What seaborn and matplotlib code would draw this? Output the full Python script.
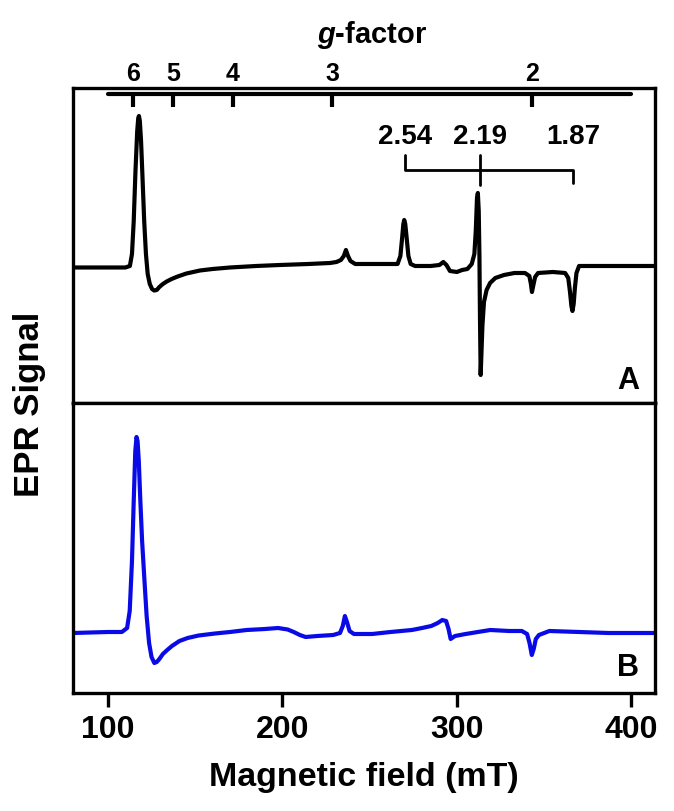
import numpy as np
import matplotlib
matplotlib.use("Agg")
import matplotlib.pyplot as plt
import seaborn as sns

# microwave frequency (GHz) used for the g-factor scale, B(mT) = 71.4477 * nu / g
mw_freq = 9.6
g_ticks = [6, 5, 4, 3, 2]
g_marks = [2.54, 2.19, 1.87]

# spectrum A (black), field in mT, signal in arbitrary units
field_a = [80, 100, 110, 112.6, 113.8, 114.8, 115.8, 116.8, 117.4, 117.8, 118.3,
           119.0, 119.8, 120.8, 121.8, 122.8, 124.0, 125.3, 126.5, 128.0, 129.5,
           131.5, 133.7, 136.5, 140, 145, 152.8, 160, 170, 185, 198.7, 215,
           227.3, 231, 233.5, 235.2, 236.4, 237.6, 239, 241.7, 250, 260, 266,
           267.6, 268.6, 269.3, 269.8, 270.4, 271.2, 272.2, 273.5, 276, 285,
           290, 292.2, 294, 296, 300, 303, 306, 308.5, 310, 310.8, 311.5, 312.0,
           312.5, 312.9, 313.2, 313.6, 314.0, 314.6, 315.5, 317, 319, 322, 327,
           333, 339, 341.5, 342.4, 343, 343.7, 344.8, 346.5, 355, 362, 363.8,
           364.8, 365.6, 366.2, 366.9, 367.6, 368.5, 370, 380, 395, 413.5]
signal_a = [-1.5, -1.5, -1.5, 0, 12, 45, 95, 135, 148, 150, 145,
            125, 90, 45, 12, -8, -18, -23, -24.5, -24, -21,
            -18, -15.5, -13, -10.5, -7.5, -4.5, -3, -1.5, 0, 1, 2,
            3, 4, 6, 10, 16, 10, 5, 2, 2, 2, 2,
            10, 28, 42, 46, 42, 28, 10, 2, 0, 0,
            1, 4, 1, -5, -6, -4, -3, 2, 12, 35, 68, 73,
            55, 10, -50, -109, -90, -60, -36, -24, -17, -12, -9,
            -7, -7, -10, -18, -26, -20, -11, -7, -6, -7, -12,
            -26, -40, -45, -38, -22, -7, 0, 0, 0, 0]

# spectrum B (blue)
field_b = [80, 100, 108, 111, 112.5, 113.8, 114.8, 115.7, 116.4, 117.0, 117.7,
           118.6, 119.6, 120.9, 122.2, 123.6, 125.0, 126.6, 128.0, 129.5, 131.5,
           134, 136.7, 141, 145.7, 152, 161.4, 170, 179.5, 190, 197.5, 203,
           206.5, 210, 213.3, 220, 229.1, 233, 234.6, 235.8, 237, 238.5, 241,
           251.4, 262, 274.2, 280, 285.3, 289, 291.6, 293.8, 295.2, 296.4, 298.9,
           305, 312, 319.1, 330, 337.2, 340.2, 341.6, 342.9, 344.0, 345.2, 347,
           353, 370, 386.8, 413.8]
signal_b = [-2, -1, -1, 3, 20, 70, 130, 180, 194, 190, 170,
            130, 90, 52, 15, -12, -26, -32, -31, -28, -23,
            -19, -15, -10, -7, -4.5, -2.5, -1, 1, 2, 3, 1.5,
            -1, -4, -6, -5, -4, -2, 5, 15, 9, 0, -3,
            -3, -1, 1, 3, 5, 8, 11, 10, 2, -8, -5,
            -3, -1, 1, 0, 0, -3, -12, -24, -18, -8, -4,
            0, -1, -2, -2]

sns.set_theme(style="ticks")
plt.rcParams['font.family'] = ['Liberation Sans', 'DejaVu Sans']
plt.rcParams['font.weight'] = 'bold'
plt.rcParams['text.color'] = 'black'
plt.rcParams['axes.labelcolor'] = 'black'
plt.rcParams['xtick.color'] = 'black'
plt.rcParams['mathtext.fontset'] = 'custom'
plt.rcParams['mathtext.it'] = 'Liberation Sans:italic:bold'

fig = plt.figure(figsize=(6.74, 8.11), dpi=100)
ax1 = fig.add_axes([0.1083, 0.5031, 0.8635, 0.3884])
ax2 = fig.add_axes([0.1083, 0.1455, 0.8635, 0.3576])

sns.lineplot(x=field_a, y=signal_a, ax=ax1, color='black', lw=3.0, sort=False)
sns.lineplot(x=field_b, y=signal_b, ax=ax2, color='#0a0ae6', lw=3.0, sort=False)

for ax in (ax1, ax2):
    ax.set_xlim(80, 413.5)
    ax.set_yticks([])
    for s in ax.spines.values():
        s.set_linewidth(2.4)
        s.set_color('black')
ax1.set_ylim(-137, 178)
ax2.set_ylim(-62, 228)
ax1.set_xticks([])

ax2.set_xticks([100, 200, 300, 400])
ax2.tick_params(axis='x', length=10, width=2.4, pad=6, colors='black',
                labelsize=23)
ax2.set_xlabel('Magnetic field (mT)', fontsize=24.5, fontweight='bold',
               labelpad=12)
fig.text(30 / 674, 1 - 404 / 811, 'EPR Signal', rotation=90, ha='center',
         va='center', fontsize=25, fontweight='bold')

# g-factor scale along the top
g_pos = [71.4477 * mw_freq / g for g in g_ticks]
ax1.plot([100, 400], [172, 172], color='black', lw=3, solid_capstyle='round')
for g, b in zip(g_ticks, g_pos):
    ax1.plot([b, b], [172, 159], color='black', lw=3, solid_capstyle='butt')
    ax1.text(b, 185, str(g), ha='center', va='baseline', fontsize=18,
             fontweight='bold')
ax1.text(220, 223, r'$\mathit{g}$-factor', ha='left', va='baseline',
         fontsize=21, fontweight='bold')

# bracket for the rhombic signal
m = [71.4477 * mw_freq / g for g in g_marks]
ax1.plot([m[0], m[0], m[2], m[2]], [111, 96, 96, 83], color='black', lw=2)
ax1.plot([m[1], m[1]], [111, 81], color='black', lw=2)
for g, b in zip(g_marks, m):
    ax1.text(b, 129, f'{g:.2f}', ha='center', va='center', fontsize=20,
             fontweight='bold')

ax1.text(0.954, 0.07, 'A', transform=ax1.transAxes, ha='center', va='center',
         fontsize=22, fontweight='bold')
ax2.text(0.954, 0.086, 'B', transform=ax2.transAxes, ha='center', va='center',
         fontsize=22, fontweight='bold')

fig.savefig('out.png', dpi=100)
